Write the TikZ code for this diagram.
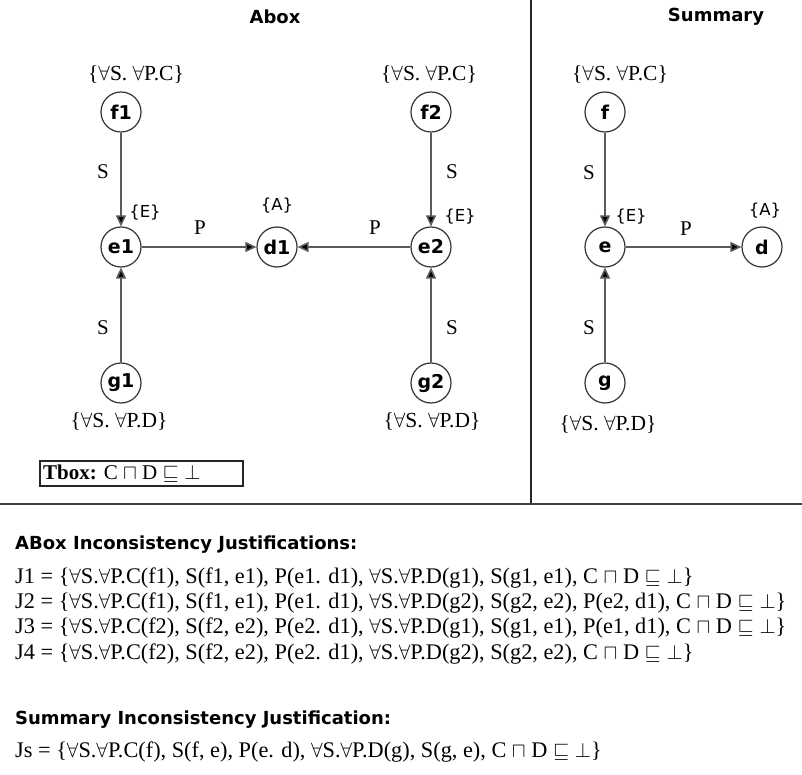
\documentclass[tikz,border=0pt]{standalone}
\usepackage{fontspec}
\setmainfont{Liberation Serif}
\newfontfamily\tah{DejaVu Sans}
\usetikzlibrary{arrows.meta}
\definecolor{edgegray}{HTML}{5A5A5A}
\tikzset{
  ind/.style={circle, draw=black!80, line width=1.2pt, minimum size=40pt, inner sep=0pt, font=\tah\bfseries\fontsize{19}{21}\selectfont},
  rel/.style={draw=edgegray, line width=1.6pt, -{Triangle[length=11pt,width=10pt,fill=black]}},
  elab/.style={font=\fontsize{21.5}{23}\selectfont, inner sep=0pt},
  clab/.style={font=\tah\fontsize{16.5}{18}\selectfont, inner sep=0pt},
  slab/.style={font=\fontsize{21}{23}\selectfont, inner sep=0pt},
  title/.style={font=\tah\bfseries\fontsize{18}{20}\selectfont, inner sep=0pt},
  head/.style={font=\tah\bfseries\fontsize{18}{20}\selectfont, anchor=west, inner sep=0pt},
  jline/.style={font=\fontsize{22.3}{24}\selectfont, anchor=west, inner sep=0pt},
}
\begin{document}
\begin{tikzpicture}[x=1pt,y=-1pt]
\useasboundingbox (0,0) rectangle (802,775);
% dividers
\draw[line width=2pt, black!85] (531,0) -- (531,504);
\draw[line width=1.5pt, black!75] (0,504) -- (802,504);
% titles
\node[title] (tabox) at (275,17) {Abox};
\node[title] (tsum) at (716,17) {Summary};
% Abox nodes
\node[ind] (f1) at (121,112) {f1};
\node[ind] (e1) at (121,247) {e1};
\node[ind] (d1) at (277,247) {d1};
\node[ind] (e2) at (431,247) {e2};
\node[ind] (f2) at (431,112) {f2};
\node[ind] (g1) at (121,383) {g1};
\node[ind] (g2) at (431,383) {g2};
% Summary nodes
\node[ind] (f) at (605,112) {f};
\node[ind] (e) at (605,247) {e};
\node[ind] (d) at (762,247) {d};
\node[ind] (g) at (605,383) {g};
% edges
\draw[rel] (f1) -- (e1);
\draw[rel] (g1) -- (e1);
\draw[rel] (e1) -- (d1);
\draw[rel] (f2) -- (e2);
\draw[rel] (g2) -- (e2);
\draw[rel] (e2) -- (d1);
\draw[rel] (f) -- (e);
\draw[rel] (g) -- (e);
\draw[rel] (e) -- (d);
% edge labels
\node[slab] (s1) at (103,172) {S};
\node[slab] (s2) at (103,328) {S};
\node[slab] (s3) at (452,172) {S};
\node[slab] (s4) at (452,328) {S};
\node[slab] (s5) at (589,173) {S};
\node[slab] (s6) at (589,328) {S};
\node[slab] (p1) at (200,228) {P};
\node[slab] (p2) at (375,228) {P};
\node[slab] (p3) at (686,229) {P};
% concept labels
\node[elab] (lf1) at (136,74) {\{$\forall$S. $\forall$P.C\}};
\node[elab] (lf2) at (429,74) {\{$\forall$S. $\forall$P.C\}};
\node[elab] (lf) at (620,74) {\{$\forall$S. $\forall$P.C\}};
\node[elab] (lg1) at (119,421) {\{$\forall$S. $\forall$P.D\}};
\node[elab] (lg2) at (432,421) {\{$\forall$S. $\forall$P.D\}};
\node[elab] (lg) at (608,424) {\{$\forall$S. $\forall$P.D\}};
\node[clab] (le1) at (145,213) {\{E\}};
\node[clab] (ld1) at (277,206) {\{A\}};
\node[clab] (le2) at (460,217) {\{E\}};
\node[clab] (le) at (631,217) {\{E\}};
\node[clab] (ld) at (765,211) {\{A\}};
% Tbox
\draw[black!85, line width=1.2pt] (40,461) rectangle (243,486);
\node[anchor=west, inner sep=0pt, font=\fontsize{21}{23}\selectfont] (tbox) at (43,474) {\textbf{Tbox:} C $\sqcap$ D $\sqsubseteq\bot$};
% justifications
\node[head] (h1) at (15,545) {ABox Inconsistency Justifications:};
\node[jline] (j1) at (15,578) {J1 = \{$\forall$S.$\forall$P.C(f1), S(f1, e1), P(e1. d1), $\forall$S.$\forall$P.D(g1), S(g1, e1), C $\sqcap$ D $\sqsubseteq\bot$\}};
\node[jline] (j2) at (15,603) {J2 = \{$\forall$S.$\forall$P.C(f1), S(f1, e1), P(e1. d1), $\forall$S.$\forall$P.D(g2), S(g2, e2), P(e2, d1), C $\sqcap$ D $\sqsubseteq\bot$\}};
\node[jline] (j3) at (15,628) {J3 = \{$\forall$S.$\forall$P.C(f2), S(f2, e2), P(e2. d1), $\forall$S.$\forall$P.D(g1), S(g1, e1), P(e1, d1), C $\sqcap$ D $\sqsubseteq\bot$\}};
\node[jline] (j4) at (15,654) {J4 = \{$\forall$S.$\forall$P.C(f2), S(f2, e2), P(e2. d1), $\forall$S.$\forall$P.D(g2), S(g2, e2), C $\sqcap$ D $\sqsubseteq\bot$\}};
\node[head] (h2) at (15,720) {Summary Inconsistency Justification:};
\node[jline] (js) at (15,752) {Js = \{$\forall$S.$\forall$P.C(f), S(f, e), P(e. d), $\forall$S.$\forall$P.D(g), S(g, e), C $\sqcap$ D $\sqsubseteq\bot$\}};
\end{tikzpicture}
\end{document}
